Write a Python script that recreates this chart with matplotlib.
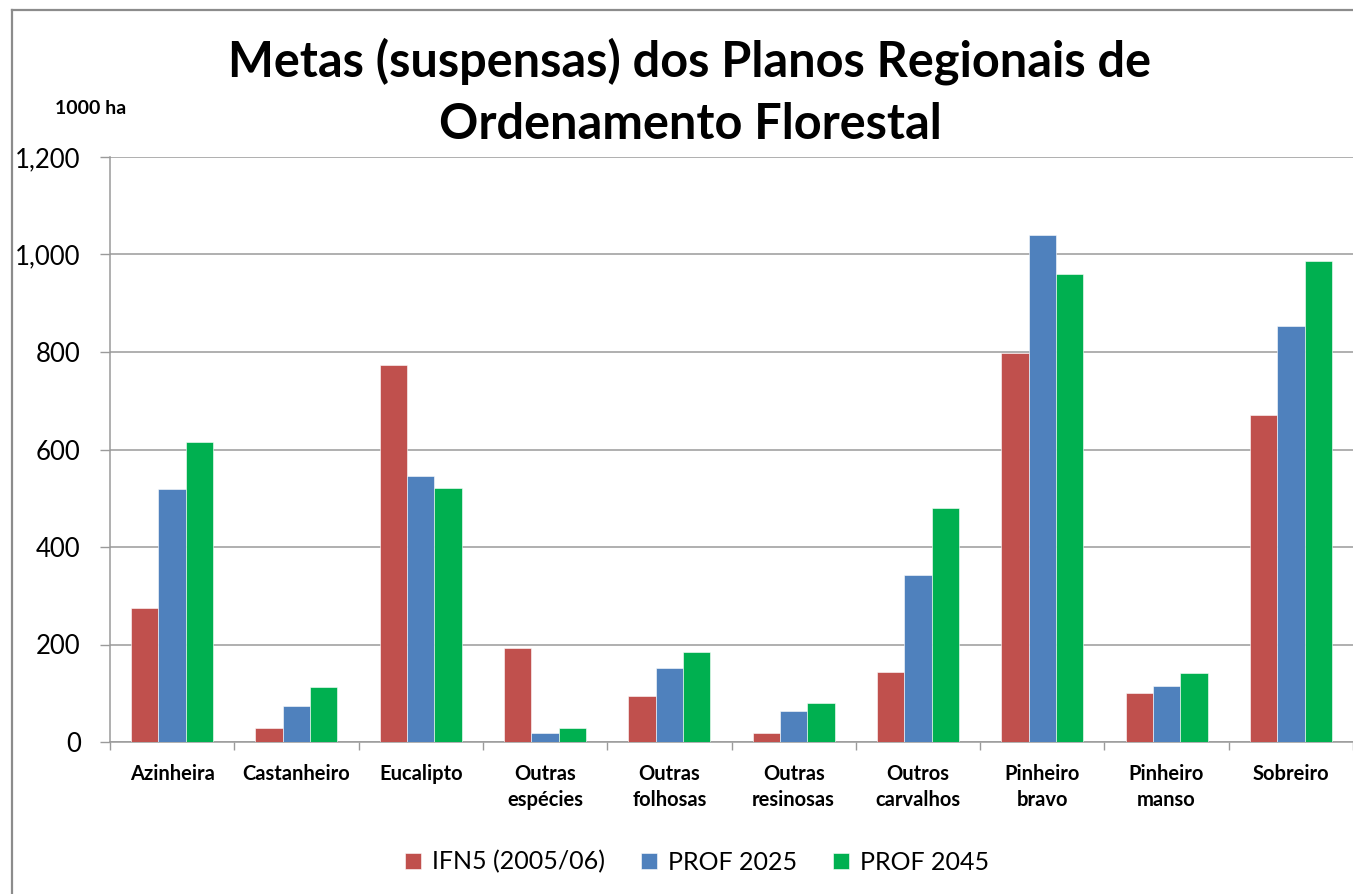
import numpy as np
import matplotlib
matplotlib.use("Agg")
import matplotlib.pyplot as plt
from matplotlib.lines import Line2D

plt.rcParams["font.family"] = ["Lato", "DejaVu Sans"]

# ── dados (1000 ha) ──
categories = ["Azinheira", "Castanheiro", "Eucalipto", "Outras\nespécies", "Outras\nfolhosas",
              "Outras\nresinosas", "Outros\ncarvalhos", "Pinheiro\nbravo", "Pinheiro\nmanso", "Sobreiro"]
ifn5 = [275, 28, 773, 193, 94, 18, 144, 797, 101, 670]
prof2025 = [520, 74, 546, 18, 152, 64, 342, 1040, 115, 853]
prof2045 = [615, 112, 522, 28, 185, 81, 479, 960, 142, 986]
series_names = ["IFN5 (2005/06)", "PROF 2025", "PROF 2045"]
colors = ["#C0504D", "#4F81BD", "#00B050"]
yticks = [0, 200, 400, 600, 800, 1000, 1200]

W, H = 1353, 894
fig = plt.figure(figsize=(W / 100, H / 100), dpi=100)
ax = fig.add_axes([110 / W, 1 - 742 / H, (W - 110) / W, (742 - 157) / H])

x = np.arange(len(categories))
bw = 0.22
for i, (vals, name, c) in enumerate(zip([ifn5, prof2025, prof2045], series_names, colors)):
    ax.bar(x + (i - 1) * bw, vals, width=bw, color=c, label=name, zorder=3,
           edgecolor="white", linewidth=0.4)

grid_c = "#9a9a9a"
ax.set_xlim(-0.5, -0.5 + (W - 110) / 126.4)
ax.set_ylim(0, 1200)
ax.set_yticks(yticks)
ax.set_yticklabels([f"{v:,}" for v in yticks], fontsize=18.5)
ax.yaxis.grid(True, color=grid_c, linewidth=1.1, zorder=0)
ax.tick_params(axis="y", length=7, width=1, color=grid_c, pad=14)

# separadores de categoria e rótulos
ax.set_xticks(np.arange(-0.5, len(categories), 1))
ax.set_xticklabels([])
ax.tick_params(axis="x", which="major", length=6, width=1, color=grid_c)
ax.set_xticks(x, minor=True)
ax.set_xticklabels(categories, minor=True, fontsize=14.5, fontweight="bold", linespacing=1.35)
ax.tick_params(axis="x", which="minor", length=0, pad=16)

for s in ["top", "right"]:
    ax.spines[s].set_visible(False)
ax.spines["left"].set_color(grid_c)
ax.spines["bottom"].set_color(grid_c)
ax.spines["left"].set_linewidth(1.1)
ax.spines["bottom"].set_linewidth(1.1)

fig.text(690 / W, 1 - 92 / H, "Metas (suspensas) dos Planos Regionais de\nOrdenamento Florestal",
         ha="center", va="center", fontsize=35, fontweight="bold", linespacing=1.47)
fig.text(55 / W, 1 - 108 / H, "1000 ha", ha="left", va="center", fontsize=14, fontweight="bold")

leg = fig.legend(loc="center", bbox_to_anchor=(697 / W, 1 - 862 / H), ncol=3, frameon=False,
                 fontsize=18, handlelength=0.65, handleheight=0.65, handletextpad=0.42,
                 columnspacing=1.45)

# borda da área do gráfico
fig.add_artist(Line2D([12 / W, 12 / W], [0, 1 - 10 / H], color="#8c8c8c", linewidth=1.6))
fig.add_artist(Line2D([12 / W, 1], [1 - 10 / H, 1 - 10 / H], color="#8c8c8c", linewidth=1.6))

fig.savefig("out.png", dpi=100)
